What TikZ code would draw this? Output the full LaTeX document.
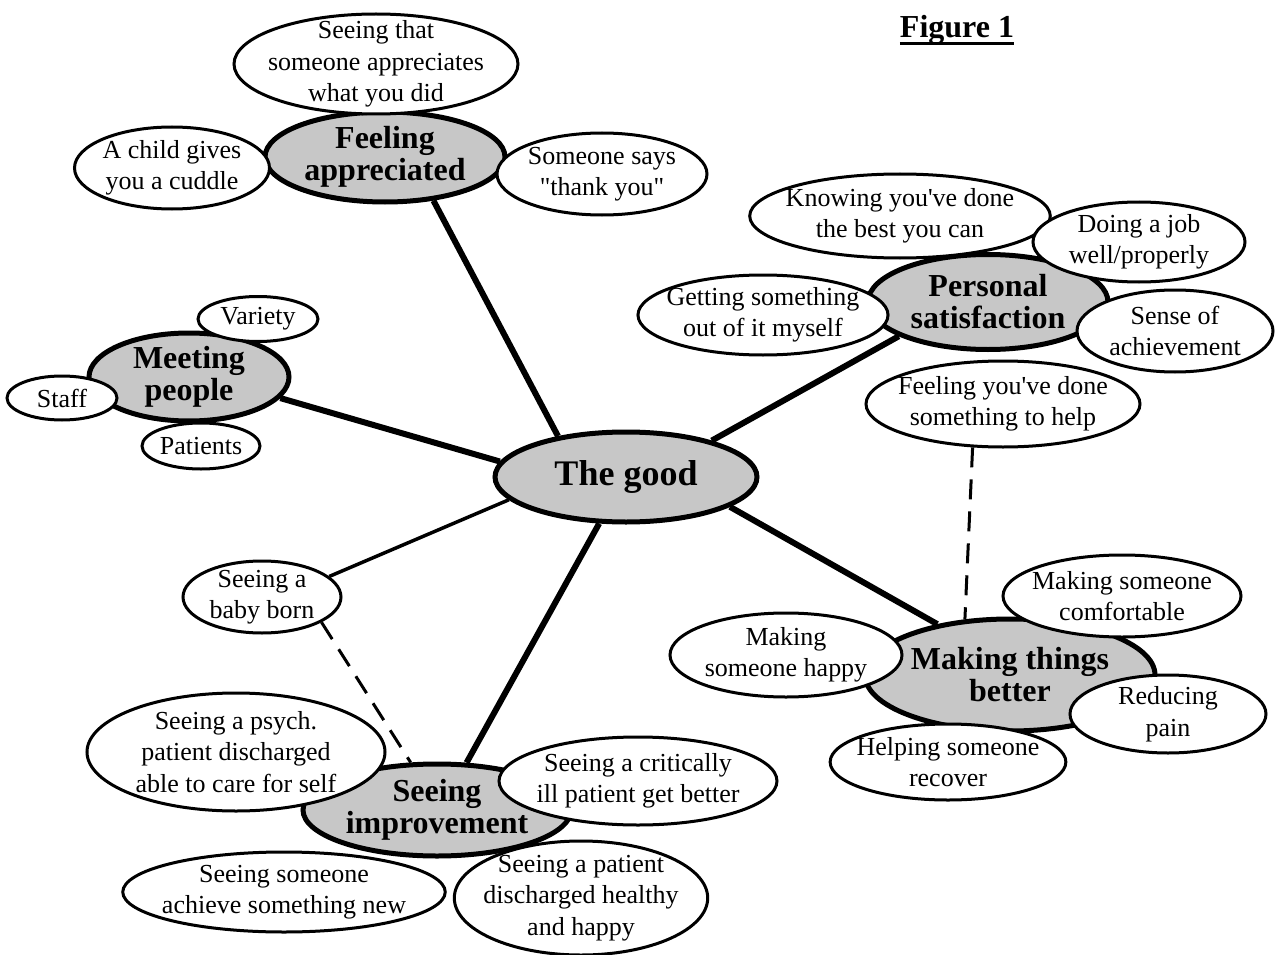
\documentclass[tikz,border=0pt]{standalone}
\usepackage{fontspec}
\setmainfont{Liberation Serif}
\usetikzlibrary{shapes.geometric}
\begin{document}
\begin{tikzpicture}[x=1pt,y=-1pt]
	\tikzstyle{hub} = [ellipse, draw, line width=5pt, fill=black!22, inner sep=-4pt, align=center, font=\bfseries\fontsize{32}{32}\selectfont]
	\tikzstyle{leaf} = [ellipse, draw, line width=3pt, fill=white, inner sep=-8pt, align=center, font=\fontsize{26}{31.5}\selectfont]
	\tikzset{edge/.style = {-, line width=6pt}}
	\tikzset{thinedge/.style = {-, line width=3.5pt}}
	\tikzset{link/.style = {-, line width=3pt, dash pattern=on 20pt off 12pt}}

	\useasboundingbox (0,0) rectangle (1275,955);

	% the hubs
	\node[hub, minimum width=262pt, minimum height=90pt, font=\bfseries\fontsize{36}{40}\selectfont](good) at (626,477) {The good};
	\node[hub, minimum width=240pt, minimum height=90pt](appreciated) at (385,157) {Feeling\\appreciated};
	\node[hub, minimum width=200pt, minimum height=88pt](meeting) at (189,377) {Meeting\\people};
	\node[hub, minimum width=240pt, minimum height=95pt](satisfaction) at (988,302) {Personal\\satisfaction};
	\node[hub, minimum width=290pt, minimum height=112pt](better) at (1010,675) {Making things\\better};
	\node[hub, minimum width=268pt, minimum height=92pt](improvement) at (437,810) {Seeing\\improvement};

	% the leaves
	\node[leaf, minimum width=284pt, minimum height=100pt](someone) at (376,64) {Seeing that\\someone appreciates\\what you did};
	\node[leaf, minimum width=195pt, minimum height=82pt](cuddle) at (172,168) {A child gives\\you a cuddle};
	\node[leaf, minimum width=210pt, minimum height=82pt](thanks) at (602,174) {Someone says\\\textquotedbl thank you\textquotedbl};
	\node[leaf, minimum width=120pt, minimum height=45pt](variety) at (258,319) {Variety};
	\node[leaf, minimum width=110pt, minimum height=44pt](staff) at (62,398) {Staff};
	\node[leaf, minimum width=118pt, minimum height=46pt](patients) at (201,446) {Patients};
	\node[leaf, minimum width=282pt, minimum height=84pt](best) at (900,216) {Knowing you\textquotesingle ve done\\the best you can};
	\node[leaf, minimum width=212pt, minimum height=80pt](job) at (1139,242) {Doing a job\\well/properly};
	\node[leaf, minimum width=214pt, minimum height=80pt](myself) at (763,315) {Getting something\\out of it myself};
	\node[leaf, minimum width=196pt, minimum height=82pt](achievement) at (1175,331) {Sense of\\achievement};
	\node[leaf, minimum width=274pt, minimum height=86pt](help) at (1003,404) {Feeling you\textquotesingle ve done\\something to help};
	\node[leaf, minimum width=158pt, minimum height=72pt](baby) at (262,597) {Seeing a\\baby born};
	\node[leaf, minimum width=238pt, minimum height=82pt](comfortable) at (1122,596) {Making someone\\comfortable};
	\node[leaf, minimum width=232pt, minimum height=84pt](happy) at (786,655) {Making\\someone happy};
	\node[leaf, minimum width=196pt, minimum height=78pt](pain) at (1168,714) {Reducing\\pain};
	\node[leaf, minimum width=228pt, minimum height=76pt](recover) at (948,762) {Helping someone\\recover};
	\node[leaf, minimum width=298pt, minimum height=118pt](psych) at (236,752) {Seeing a psych.\\patient discharged\\able to care for self};
	\node[leaf, minimum width=278pt, minimum height=88pt](critically) at (638,781) {Seeing a critically\\ill patient get better};
	\node[leaf, minimum width=312pt, minimum height=80pt](achieve) at (284,892) {Seeing someone\\achieve something new};
	\node[leaf, minimum width=242pt, minimum height=114pt](healthy) at (581,898) {Seeing a patient\\discharged healthy\\and happy};

	% the title
	\node[font=\bfseries\fontsize{32}{36}\selectfont, inner sep=0pt](figure) at (957,30) {Figure 1};
	\draw[line width=2.5pt]([yshift=-6pt]figure.base west) to ([yshift=-6pt]figure.base east);

	% the connectors
	\draw[edge](good.149) to (appreciated.-42);
	\draw[edge](good.173) to (meeting.-13);
	\draw[edge](good.23) to (satisfaction.201);
	\draw[edge](good.-16) to (better.145);
	\draw[edge](good.240) to (improvement.58);
	\draw[thinedge](good.191) to (baby.17);
	\draw[link](baby.-23) to (improvement.119);
	\draw[link](help.-125) to (better.129);

\end{tikzpicture}
\end{document}
